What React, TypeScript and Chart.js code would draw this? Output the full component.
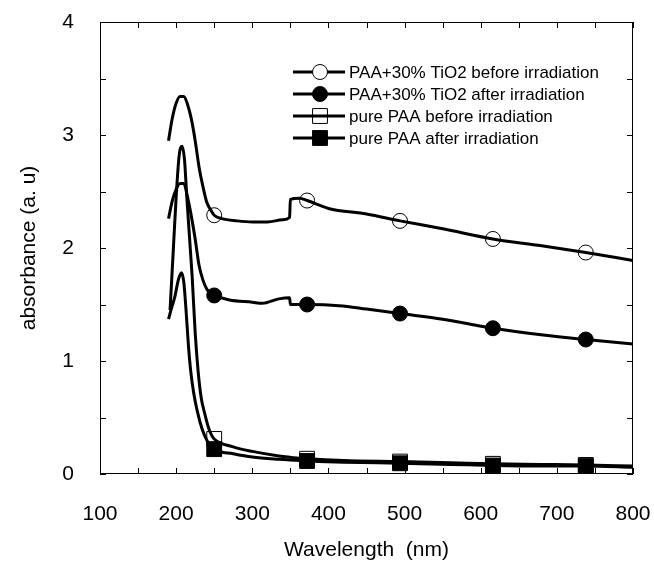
import React, { useEffect, useRef } from "react";
import { Chart, registerables } from "chart.js";

Chart.register(...registerables);

// ---- Data ----
const X_TICKS = [100, 200, 300, 400, 500, 600, 700, 800];
const Y_TICKS = [0, 1, 2, 3, 4];
const MARKER_WL = [250, 372, 494, 616, 738];

const LABELS = [
  "PAA+30% TiO2 before irradiation",
  "PAA+30% TiO2 after irradiation",
  "pure PAA before irradiation",
  "pure PAA after irradiation",
];

const WL_TIO2_BEFORE = [190, 195, 200, 205, 210, 215, 220, 225, 230, 235, 240, 245, 250, 260, 280, 300, 320, 340, 349, 350, 362, 372, 400, 450, 494, 550, 616, 680, 738, 800];
const ABS_TIO2_BEFORE = [2.95, 3.15, 3.28, 3.34, 3.34, 3.27, 3.14, 2.95, 2.72, 2.55, 2.41, 2.34, 2.29, 2.26, 2.24, 2.23, 2.23, 2.25, 2.27, 2.43, 2.44, 2.42, 2.35, 2.30, 2.24, 2.17, 2.08, 2.02, 1.96, 1.89];

const WL_TIO2_AFTER = [190, 195, 200, 205, 210, 215, 220, 225, 230, 235, 240, 245, 250, 270, 300, 313, 335, 349, 350, 372, 414, 450, 494, 550, 616, 682, 738, 800];
const ABS_TIO2_AFTER = [2.26, 2.42, 2.52, 2.57, 2.57, 2.45, 2.28, 2.08, 1.85, 1.72, 1.64, 1.60, 1.58, 1.54, 1.52, 1.51, 1.55, 1.56, 1.50, 1.50, 1.49, 1.46, 1.42, 1.37, 1.29, 1.23, 1.19, 1.15];

const WL_PAA_BEFORE = [192, 196, 200, 204, 208, 211, 214, 218, 221, 225, 229, 233, 237, 242, 246, 250, 275, 300, 335, 362, 372, 420, 494, 560, 616, 680, 738, 800];
const ABS_PAA_BEFORE = [1.45, 1.95, 2.45, 2.82, 2.90, 2.78, 2.45, 2.05, 1.75, 1.25, 0.90, 0.67, 0.55, 0.42, 0.35, 0.31, 0.24, 0.20, 0.16, 0.14, 0.135, 0.12, 0.11, 0.10, 0.09, 0.085, 0.08, 0.07];

const WL_PAA_AFTER = [190, 194, 198, 203, 207, 210, 213, 216, 219, 223, 228, 234, 241, 250, 275, 300, 335, 362, 372, 420, 494, 560, 616, 680, 738, 800];
const ABS_PAA_AFTER = [1.37, 1.47, 1.56, 1.72, 1.78, 1.70, 1.45, 1.15, 0.92, 0.72, 0.55, 0.40, 0.29, 0.22, 0.18, 0.15, 0.13, 0.12, 0.115, 0.105, 0.095, 0.085, 0.075, 0.07, 0.07, 0.06];

const FONT = "'Liberation Sans', Arial, sans-serif";

type MarkerKind = { style: "circle" | "rect"; filled: boolean; radius: number };
const MARKERS: MarkerKind[] = [
  { style: "circle", filled: false, radius: 7.5 },
  { style: "circle", filled: true, radius: 7.5 },
  { style: "rect", filled: false, radius: 10.5 },
  { style: "rect", filled: true, radius: 10.5 },
];

function toPoints(xs: number[], ys: number[]) {
  return xs.map((x, i) => ({ x, y: ys[i] }));
}

function drawMarker(ctx: CanvasRenderingContext2D, m: MarkerKind, x: number, y: number) {
  ctx.save();
  ctx.beginPath();
  if (m.style === "circle") {
    ctx.arc(x, y, m.radius, 0, Math.PI * 2);
  } else {
    const s = m.radius * Math.SQRT1_2;
    ctx.rect(x - s, y - s, 2 * s, 2 * s);
  }
  if (m.filled) {
    ctx.fillStyle = "#000";
    ctx.fill();
  }
  ctx.lineWidth = 1;
  ctx.strokeStyle = "#000";
  ctx.stroke();
  ctx.restore();
}

const framePlugin = {
  id: "frameTicks",
  beforeDatasetsDraw(chart: any) {
    const { ctx, chartArea: a, scales } = chart;
    const x = scales.x;
    const y = scales.y;
    ctx.save();
    ctx.strokeStyle = "#000";
    ctx.lineWidth = 1;
    ctx.strokeRect(a.left + 0.5, a.top + 0.5, a.right - a.left - 1, a.bottom - a.top - 1);
    const L = 6;
    ctx.beginPath();
    for (let v = 100; v <= 800; v += 50) {
      const px = Math.round(x.getPixelForValue(v)) + 0.5;
      ctx.moveTo(px, a.bottom);
      ctx.lineTo(px, a.bottom - L);
      ctx.moveTo(px, a.top);
      ctx.lineTo(px, a.top + L);
    }
    for (let v = 0; v <= 4; v += 0.5) {
      const py = Math.round(y.getPixelForValue(v)) + 0.5;
      ctx.moveTo(a.left, py);
      ctx.lineTo(a.left + L, py);
      ctx.moveTo(a.right, py);
      ctx.lineTo(a.right - L, py);
    }
    ctx.stroke();
    ctx.restore();
  },
  afterDraw(chart: any) {
    const { ctx } = chart;
    const x0 = 293;
    const x1 = 345;
    const mx = 320;
    const tx = 349;
    const rows = [72, 94, 116, 138];
    ctx.save();
    ctx.font = `17px ${FONT}`;
    ctx.fillStyle = "#000";
    ctx.textBaseline = "middle";
    ctx.textAlign = "left";
    LABELS.forEach((label, i) => {
      const ry = rows[i];
      ctx.beginPath();
      ctx.strokeStyle = "#000";
      ctx.lineWidth = 3;
      ctx.moveTo(x0, ry);
      ctx.lineTo(x1, ry);
      ctx.stroke();
      const m = MARKERS[i];
      if (!m.filled && m.style === "circle") {
        ctx.fillStyle = "#fff";
        ctx.beginPath();
        ctx.arc(mx, ry, m.radius, 0, Math.PI * 2);
        ctx.fill();
      }
      drawMarker(ctx, m, mx, ry);
      ctx.fillStyle = "#000";
      ctx.fillText(label, tx, ry + 1);
    });
    ctx.restore();
  },
};

export default function App() {
  const ref = useRef<HTMLCanvasElement | null>(null);

  useEffect(() => {
    if (!ref.current) return;
    const series = [
      toPoints(WL_TIO2_BEFORE, ABS_TIO2_BEFORE),
      toPoints(WL_TIO2_AFTER, ABS_TIO2_AFTER),
      toPoints(WL_PAA_BEFORE, ABS_PAA_BEFORE),
      toPoints(WL_PAA_AFTER, ABS_PAA_AFTER),
    ];
    const datasets = series.map((data, i) => {
      const m = MARKERS[i];
      return {
        label: LABELS[i],
        data,
        borderColor: "#000",
        borderWidth: 3,
        backgroundColor: "#000",
        cubicInterpolationMode: "monotone" as const,
        pointStyle: m.style,
        pointBackgroundColor: m.filled ? "#000" : "rgba(0,0,0,0)",
        pointBorderColor: "#000",
        pointBorderWidth: 1,
        pointRadius: (c: any) =>
          c.raw && MARKER_WL.includes(c.raw.x) ? m.radius : 0,
        pointHoverRadius: (c: any) =>
          c.raw && MARKER_WL.includes(c.raw.x) ? m.radius : 0,
      };
    });

    const chart = new Chart(ref.current, {
      type: "line",
      data: { datasets },
      plugins: [framePlugin],
      options: {
        animation: false,
        responsive: true,
        maintainAspectRatio: false,
        layout: { padding: { top: 22, right: 21, left: 0, bottom: 0 } },
        plugins: { legend: { display: false }, tooltip: { enabled: false } },
        events: [],
        scales: {
          x: {
            type: "linear",
            min: 100,
            max: 800,
            afterFit: (s: any) => {
              s.height = 100;
              s.paddingLeft = 0;
              s.paddingRight = 0;
            },
            afterBuildTicks: (s: any) => {
              s.ticks = X_TICKS.map((v) => ({ value: v }));
            },
            grid: { display: false, drawTicks: false },
            border: { display: false },
            ticks: {
              autoSkip: false,
              maxRotation: 0,
              padding: 28,
              color: "#000",
              font: { size: 21, family: FONT },
            },
            title: {
              display: true,
              text: "Wavelength  (nm)",
              color: "#000",
              font: { size: 21, family: FONT },
              padding: { top: 0, bottom: 11 },
            },
          },
          y: {
            type: "linear",
            min: 0,
            max: 4,
            afterFit: (s: any) => {
              s.width = 100;
              s.paddingTop = 0;
              s.paddingBottom = 0;
            },
            afterBuildTicks: (s: any) => {
              s.ticks = Y_TICKS.map((v) => ({ value: v }));
            },
            grid: { display: false, drawTicks: false },
            border: { display: false },
            ticks: {
              padding: 26,
              color: "#000",
              font: { size: 21, family: FONT },
            },
            title: {
              display: true,
              text: "absorbance (a. u)",
              color: "#000",
              font: { size: 21, family: FONT },
              padding: { top: 17, bottom: 0 },
            },
          },
        },
      },
    });
    return () => chart.destroy();
  }, []);

  return (
    <div style={{ position: "fixed", left: 0, top: 0, width: 654, height: 574, background: "#fff" }}>
      <canvas ref={ref} />
    </div>
  );
}
